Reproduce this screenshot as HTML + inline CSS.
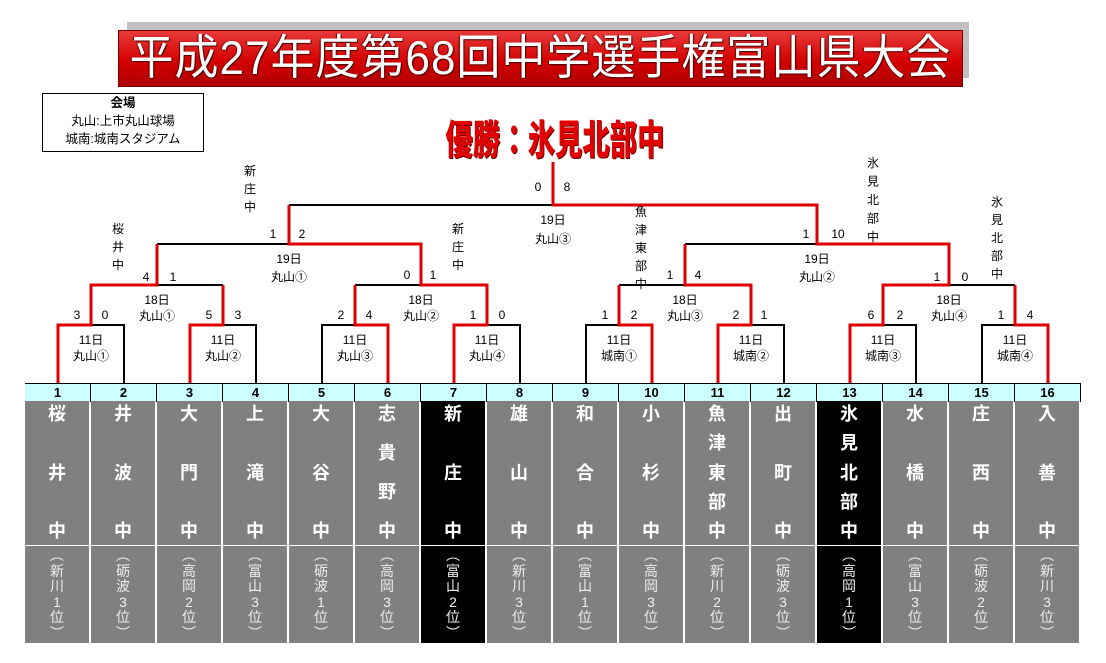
<!DOCTYPE html>
<html><head><meta charset="utf-8"><style>
body{margin:0;width:1106px;height:663px;background:#fff;position:relative;overflow:hidden;font-family:"Liberation Sans","Noto Sans CJK JP",sans-serif}
.abs{position:absolute}
.col{position:absolute;top:401px;width:65px;height:144px;background:#808080;color:#fff;display:flex;flex-direction:column;justify-content:space-between;align-items:center;padding:2px 0 3px;box-sizing:border-box;font-size:18px;font-weight:bold;line-height:22px;border-right:1px solid #fff}
.sub{position:absolute;top:546px;width:65px;height:97px;background:#808080;color:#eee;display:flex;flex-direction:column;align-items:center;font-size:14px;line-height:15.5px;padding-top:2px;box-sizing:border-box;border-right:1px solid #fff}
.blk{background:#000}
.num{position:absolute;top:383px;width:65px;height:17px;background:#ccffff;border:1px solid #000;border-left:none;font-size:13px;font-weight:bold;text-align:center;line-height:17px}
</style></head><body>
<div class="abs" style="left:127px;top:22px;width:842px;height:56px;background:#c0c0c0"></div>
<div class="abs" style="left:118px;top:30px;width:843px;height:55px;background:linear-gradient(#e83a3a,#d40000 55%,#b00000);border:1px solid #700;color:#fff;font-family:'Liberation Sans','Noto Sans CJK JP',sans-serif;font-size:44px;letter-spacing:1px;line-height:55px;text-align:center;white-space:nowrap;overflow:hidden;text-shadow:1px 1px 1px #400,-1px 0 1px #600"><span style="display:inline-block;transform:scaleY(1.08)">平成27年度第68回中学選手権富山県大会</span></div>
<div class="abs" style="left:42px;top:93px;width:160px;height:57px;border:1px solid #000;font-size:12.5px;line-height:18px;text-align:center"><b>会場</b><br>丸山:上市丸山球場<br>城南:城南スタジアム</div>
<div class="abs" style="left:405px;top:114px;width:300px;height:46px;color:#e00000;font-family:'Noto Sans CJK JP',sans-serif;font-weight:900;font-size:36px;line-height:46px;text-align:center;white-space:nowrap;transform:scale(0.76,1.12);text-shadow:1px 1px 0 #600">優勝：氷見北部中</div>
<svg class="abs" style="left:0;top:0" width="1106" height="663" font-family="Liberation Sans,Noto Sans CJK JP,sans-serif" font-size="12" text-anchor="middle">
<g fill="none" stroke="#000" stroke-width="2">
<path d="M124,383V325H91M256,383V325H223M322,383V325H355M520,383V325H487M586,383V325H619M784,383V325H751M916,383V325H883M982,383V325H1015"/>
<path d="M223,285H157M355,285H421M619,285H685M1015,285H949M157,244H289M685,244H817M289,205H553"/>
</g>
<g fill="none" stroke="#e00000" stroke-width="3">
<path d="M58,383V325H91V285H157V244M190,383V325H223V285M388,383V325H355V285M454,383V325H487V285H421V244H289V205M652,383V325H619V285M718,383V325H751V285H685V244M850,383V325H883V285H949V244H817V205H553V162M1048,383V325H1015V285"/>
</g>
<g>
<text x="91" y="344">11日</text><text x="91" y="360">丸山①</text>
<text x="223" y="344">11日</text><text x="223" y="360">丸山②</text>
<text x="355" y="344">11日</text><text x="355" y="360">丸山③</text>
<text x="487" y="344">11日</text><text x="487" y="360">丸山④</text>
<text x="619" y="344">11日</text><text x="619" y="360">城南①</text>
<text x="751" y="344">11日</text><text x="751" y="360">城南②</text>
<text x="883" y="344">11日</text><text x="883" y="360">城南③</text>
<text x="1015" y="344">11日</text><text x="1015" y="360">城南④</text>
<text x="157" y="304">18日</text><text x="157" y="320">丸山①</text>
<text x="421" y="304">18日</text><text x="421" y="320">丸山②</text>
<text x="685" y="304">18日</text><text x="685" y="320">丸山③</text>
<text x="949" y="304">18日</text><text x="949" y="320">丸山④</text>
<text x="289" y="263">19日</text><text x="289" y="281">丸山①</text>
<text x="817" y="263">19日</text><text x="817" y="281">丸山②</text>
<text x="553" y="224">19日</text><text x="553" y="243">丸山③</text>
<text x="77" y="319">3</text><text x="105" y="319">0</text>
<text x="209" y="319">5</text><text x="238" y="319">3</text>
<text x="341" y="319">2</text><text x="369" y="319">4</text>
<text x="473" y="319">1</text><text x="502" y="319">0</text>
<text x="605" y="319">1</text><text x="634" y="319">2</text>
<text x="736" y="319">2</text><text x="764" y="319">1</text>
<text x="871" y="319">6</text><text x="900" y="319">2</text>
<text x="1001" y="319">1</text><text x="1030" y="319">4</text>
<text x="146" y="281">4</text><text x="173" y="281">1</text>
<text x="407" y="279">0</text><text x="433" y="279">1</text>
<text x="670" y="279">1</text><text x="698" y="279">4</text>
<text x="937" y="281">1</text><text x="965" y="281">0</text>
<text x="273" y="238">1</text><text x="302" y="238">2</text>
<text x="806" y="238">1</text><text x="838" y="238">10</text>
<text x="538" y="191">0</text><text x="567" y="191">8</text>
<text x="250" y="175">新<tspan x="250" dy="18">庄</tspan><tspan x="250" dy="18">中</tspan></text>
<text x="118" y="233">桜<tspan x="118" dy="18">井</tspan><tspan x="118" dy="18">中</tspan></text>
<text x="458" y="233">新<tspan x="458" dy="18">庄</tspan><tspan x="458" dy="18">中</tspan></text>
<text x="641" y="216">魚<tspan x="641" dy="18">津</tspan><tspan x="641" dy="18">東</tspan><tspan x="641" dy="18">部</tspan><tspan x="641" dy="18">中</tspan></text>
<text x="873" y="167">氷<tspan x="873" dy="18.5">見</tspan><tspan x="873" dy="18.5">北</tspan><tspan x="873" dy="18.5">部</tspan><tspan x="873" dy="18.5">中</tspan></text>
<text x="997" y="206">氷<tspan x="997" dy="18">見</tspan><tspan x="997" dy="18">北</tspan><tspan x="997" dy="18">部</tspan><tspan x="997" dy="18">中</tspan></text>
</g>
</svg>
<div class="abs" style="left:25px;top:383px;width:1px;height:18px;background:#000"></div>
<div class="num" style="left:25px">1</div><div class="num" style="left:91px">2</div><div class="num" style="left:157px">3</div><div class="num" style="left:223px">4</div><div class="num" style="left:289px">5</div><div class="num" style="left:355px">6</div><div class="num" style="left:421px">7</div><div class="num" style="left:487px">8</div><div class="num" style="left:553px">9</div><div class="num" style="left:619px">10</div><div class="num" style="left:685px">11</div><div class="num" style="left:751px">12</div><div class="num" style="left:817px">13</div><div class="num" style="left:883px">14</div><div class="num" style="left:949px">15</div><div class="num" style="left:1015px">16</div>
<div class="col" style="left:25px"><span>桜</span><span>井</span><span>中</span></div>
<div class="col" style="left:91px"><span>井</span><span>波</span><span>中</span></div>
<div class="col" style="left:157px"><span>大</span><span>門</span><span>中</span></div>
<div class="col" style="left:223px"><span>上</span><span>滝</span><span>中</span></div>
<div class="col" style="left:289px"><span>大</span><span>谷</span><span>中</span></div>
<div class="col" style="left:355px"><span>志</span><span>貴</span><span>野</span><span>中</span></div>
<div class="col blk" style="left:421px"><span>新</span><span>庄</span><span>中</span></div>
<div class="col" style="left:487px"><span>雄</span><span>山</span><span>中</span></div>
<div class="col" style="left:553px"><span>和</span><span>合</span><span>中</span></div>
<div class="col" style="left:619px"><span>小</span><span>杉</span><span>中</span></div>
<div class="col" style="left:685px"><span>魚</span><span>津</span><span>東</span><span>部</span><span>中</span></div>
<div class="col" style="left:751px"><span>出</span><span>町</span><span>中</span></div>
<div class="col blk" style="left:817px"><span>氷</span><span>見</span><span>北</span><span>部</span><span>中</span></div>
<div class="col" style="left:883px"><span>水</span><span>橋</span><span>中</span></div>
<div class="col" style="left:949px"><span>庄</span><span>西</span><span>中</span></div>
<div class="col" style="left:1015px"><span>入</span><span>善</span><span>中</span></div>
<div class="sub" style="left:25px"><span>︵</span><span>新</span><span>川</span><span>1</span><span>位</span><span>︶</span></div>
<div class="sub" style="left:91px"><span>︵</span><span>砺</span><span>波</span><span>3</span><span>位</span><span>︶</span></div>
<div class="sub" style="left:157px"><span>︵</span><span>高</span><span>岡</span><span>2</span><span>位</span><span>︶</span></div>
<div class="sub" style="left:223px"><span>︵</span><span>富</span><span>山</span><span>3</span><span>位</span><span>︶</span></div>
<div class="sub" style="left:289px"><span>︵</span><span>砺</span><span>波</span><span>1</span><span>位</span><span>︶</span></div>
<div class="sub" style="left:355px"><span>︵</span><span>高</span><span>岡</span><span>3</span><span>位</span><span>︶</span></div>
<div class="sub blk" style="left:421px"><span>︵</span><span>富</span><span>山</span><span>2</span><span>位</span><span>︶</span></div>
<div class="sub" style="left:487px"><span>︵</span><span>新</span><span>川</span><span>3</span><span>位</span><span>︶</span></div>
<div class="sub" style="left:553px"><span>︵</span><span>富</span><span>山</span><span>1</span><span>位</span><span>︶</span></div>
<div class="sub" style="left:619px"><span>︵</span><span>高</span><span>岡</span><span>3</span><span>位</span><span>︶</span></div>
<div class="sub" style="left:685px"><span>︵</span><span>新</span><span>川</span><span>2</span><span>位</span><span>︶</span></div>
<div class="sub" style="left:751px"><span>︵</span><span>砺</span><span>波</span><span>3</span><span>位</span><span>︶</span></div>
<div class="sub blk" style="left:817px"><span>︵</span><span>高</span><span>岡</span><span>1</span><span>位</span><span>︶</span></div>
<div class="sub" style="left:883px"><span>︵</span><span>富</span><span>山</span><span>3</span><span>位</span><span>︶</span></div>
<div class="sub" style="left:949px"><span>︵</span><span>砺</span><span>波</span><span>2</span><span>位</span><span>︶</span></div>
<div class="sub" style="left:1015px"><span>︵</span><span>新</span><span>川</span><span>3</span><span>位</span><span>︶</span></div>
</body></html>
